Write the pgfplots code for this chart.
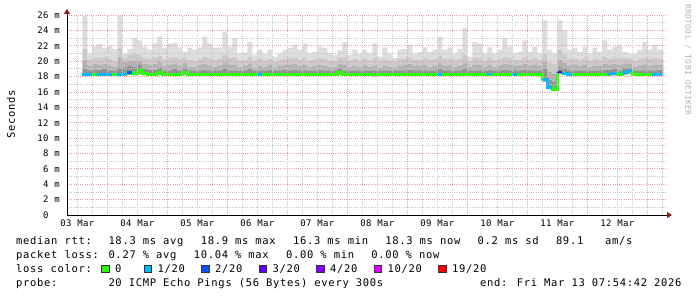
\documentclass[border=0pt]{standalone}
\usepackage{pgfplots}
\pgfplotsset{compat=1.18}
\usepackage{pgfplotstable}
\usepgfplotslibrary{fillbetween}
\usetikzlibrary{arrows.meta}
\usepackage{fontspec}
\newfontfamily\rrdmono{DejaVu Sans Mono}[LetterSpace=6.5]
\newfontfamily\rrdtickf{DejaVu Sans Mono}[LetterSpace=4]
\newcommand\legfont{\rrdmono\fontsize{10.5bp}{12bp}\selectfont\spaceskip=7bp\relax}
\newcommand\tickfont{\rrdtickf\fontsize{9bp}{10bp}\selectfont\spaceskip=5.8bp\relax}
\newcommand\wmfont{\rrdtickf\fontsize{8bp}{9bp}\selectfont\spaceskip=5.1bp\relax}

\definecolor{smoke1}{HTML}{DDDDDD}
\definecolor{smoke2}{HTML}{CACACA}
\definecolor{smoke3}{HTML}{B2B2B2}
\definecolor{smoke4}{HTML}{929292}
\definecolor{smoke5}{HTML}{A0A0A0}
\definecolor{gridred}{HTML}{E8A0A0}
\definecolor{gridgray}{HTML}{C8C8C8}
\definecolor{arrowred}{HTML}{8B1A1A}
\definecolor{loss0}{HTML}{26FF00}
\definecolor{loss1}{HTML}{00B8FF}
\definecolor{loss2}{HTML}{0059FF}
\definecolor{loss3}{HTML}{5E00FF}
\definecolor{loss4}{HTML}{7E00FF}
\definecolor{loss10}{HTML}{DD00FF}
\definecolor{loss19}{HTML}{FF0000}

\pgfplotstableread{
h max b2 b3 b4 med lo
14 25.9 21.6 20.2 19.0 18.25 18.05
16 21.0 20.2 19.4 18.8 18.3 18.1
18 22.0 20.5 19.6 18.9 18.3 18.1
20 22.2 20.4 19.5 18.9 18.3 18.1
22 21.7 20.6 19.7 19.0 18.3 18.1
24 22.0 20.3 19.4 18.8 18.3 18.1
26 21.6 20.1 19.3 18.8 18.3 18.1
28 25.9 21.8 20.4 19.2 18.3 18.1
30 21.0 20.5 19.9 19.3 18.35 18.1
32 21.6 20.8 20.0 19.4 18.5 18.2
34 23.0 20.9 20.0 19.3 18.4 18.15
36 22.7 20.8 20.1 19.5 18.8 18.3
38 21.9 20.4 19.6 19.0 18.4 18.15
40 21.5 20.3 19.5 18.9 18.3 18.1
42 22.3 20.5 19.6 18.9 18.3 18.1
44 23.2 20.7 19.9 19.2 18.6 18.2
46 21.7 20.2 19.4 18.8 18.3 18.1
48 22.2 20.4 19.5 18.8 18.3 18.1
50 22.4 20.6 19.7 19.0 18.3 18.1
52 21.8 20.3 19.4 18.8 18.3 18.1
54 21.2 20.5 19.8 19.2 18.6 18.2
56 21.7 20.2 19.3 18.8 18.3 18.1
58 21.5 20.1 19.3 18.7 18.3 18.1
60 21.8 20.3 19.5 18.8 18.3 18.1
62 23.2 20.6 19.6 18.9 18.3 18.1
64 22.3 20.4 19.4 18.8 18.3 18.1
66 21.7 20.2 19.3 18.7 18.3 18.1
68 21.8 20.3 19.4 18.8 18.3 18.1
70 23.8 20.8 19.8 19.0 18.3 18.1
72 21.9 20.4 19.5 18.8 18.3 18.1
74 23.0 20.5 19.5 18.8 18.3 18.1
76 21.0 20.1 19.3 18.7 18.3 18.1
78 21.1 20.2 19.4 18.8 18.3 18.1
80 22.5 20.6 19.7 19.0 18.3 18.1
82 20.8 20.0 19.2 18.7 18.3 18.1
84 21.5 20.3 19.4 18.8 18.3 18.1
86 20.9 20.1 19.3 18.7 18.3 18.1
88 21.5 20.3 19.5 18.9 18.3 18.1
90 20.6 19.9 19.2 18.7 18.3 18.1
92 21.0 20.2 19.4 18.8 18.3 18.1
94 21.4 20.3 19.5 18.9 18.3 18.1
96 21.7 20.4 19.5 18.8 18.3 18.1
98 22.1 20.5 19.6 18.9 18.3 18.1
100 21.5 20.2 19.4 18.8 18.3 18.1
102 22.3 20.4 19.5 18.8 18.3 18.1
104 21.0 20.1 19.3 18.7 18.3 18.1
106 21.2 20.2 19.4 18.8 18.3 18.1
108 21.9 20.4 19.5 18.9 18.3 18.1
110 21.7 20.3 19.4 18.8 18.3 18.1
112 21.0 20.1 19.3 18.7 18.3 18.1
114 20.8 20.0 19.3 18.8 18.3 18.1
116 21.4 20.5 19.7 19.1 18.6 18.2
118 22.5 20.5 19.5 18.8 18.3 18.1
120 20.8 20.1 19.3 18.7 18.3 18.1
122 21.5 20.3 19.4 18.8 18.3 18.1
124 21.0 20.1 19.3 18.7 18.3 18.1
126 21.5 20.3 19.5 18.8 18.3 18.1
128 21.0 20.1 19.3 18.7 18.3 18.1
130 22.3 20.4 19.4 18.7 18.2 18.0
132 20.6 20.0 19.2 18.7 18.3 18.1
134 21.8 20.3 19.4 18.8 18.3 18.1
136 21.0 20.1 19.3 18.7 18.3 18.1
138 20.4 19.9 19.2 18.7 18.3 18.1
140 21.5 20.3 19.4 18.8 18.3 18.1
142 21.6 20.3 19.5 18.8 18.3 18.1
144 22.1 20.5 19.6 18.9 18.3 18.1
146 21.0 20.2 19.4 18.8 18.3 18.1
148 21.2 20.2 19.4 18.8 18.3 18.1
150 21.8 20.4 19.5 18.8 18.3 18.1
152 21.2 20.2 19.3 18.7 18.3 18.1
154 21.5 20.3 19.4 18.8 18.3 18.1
156 23.2 20.7 19.8 19.0 18.3 18.1
158 21.5 20.3 19.4 18.8 18.3 18.1
160 21.8 20.3 19.5 18.8 18.3 18.1
162 21.0 20.1 19.3 18.7 18.3 18.1
164 21.6 20.3 19.4 18.8 18.3 18.1
166 24.3 20.8 19.8 19.0 18.3 18.1
168 20.6 20.0 19.3 18.7 18.3 18.1
170 22.5 20.5 19.5 18.8 18.3 18.1
172 22.3 20.4 19.5 18.8 18.3 18.1
174 21.0 20.1 19.3 18.7 18.3 18.1
176 21.8 20.4 19.5 18.9 18.35 18.1
178 21.0 20.1 19.3 18.7 18.3 18.1
180 21.5 20.3 19.4 18.8 18.3 18.1
182 23.0 20.6 19.6 18.9 18.3 18.1
184 21.9 20.4 19.5 18.8 18.3 18.1
186 21.0 20.2 19.4 18.8 18.3 18.1
188 21.2 20.2 19.4 18.8 18.3 18.1
190 22.7 20.6 19.6 18.9 18.3 18.1
192 21.2 20.2 19.4 18.8 18.3 18.1
194 21.9 20.4 19.5 18.8 18.3 18.1
196 21.0 20.2 19.4 18.8 18.3 18.1
198 25.3 21.0 19.9 19.0 17.6 17.3
200 21.5 19.8 18.6 17.6 16.6 16.4
202 21.0 19.6 18.4 17.3 16.3 16.1
204 25.3 21.5 20.2 19.3 18.6 18.3
206 24.0 20.8 19.8 19.0 18.4 18.2
208 21.5 20.3 19.4 18.8 18.3 18.1
210 21.7 20.3 19.5 18.8 18.3 18.1
212 21.2 20.2 19.4 18.8 18.3 18.1
214 21.9 20.4 19.5 18.8 18.3 18.1
216 21.0 20.1 19.3 18.7 18.3 18.1
218 21.7 20.3 19.4 18.8 18.3 18.1
220 21.2 20.2 19.4 18.8 18.3 18.1
222 22.7 20.6 19.6 18.9 18.3 18.1
224 21.5 20.3 19.5 18.9 18.35 18.1
226 21.9 20.5 19.6 19.0 18.4 18.15
228 22.1 20.4 19.5 18.8 18.3 18.1
230 21.2 20.4 19.7 19.1 18.5 18.2
232 21.0 20.3 19.7 19.2 18.7 18.3
234 21.0 20.1 19.3 18.7 18.3 18.1
236 21.5 20.3 19.4 18.8 18.3 18.1
238 22.5 20.5 19.5 18.8 18.3 18.1
240 21.5 20.3 19.4 18.8 18.3 18.1
242 22.1 20.4 19.5 18.8 18.3 18.1
244 21.5 20.3 19.5 18.9 18.35 18.1
246.4 21.5 20.3 19.5 18.9 18.35 18.1
}\smoke

\begin{document}
\begin{tikzpicture}
\begin{axis}[
  at={(67bp,82bp)}, anchor=south west,
  width=600bp, height=200bp, scale only axis,
  xmin=7.9, xmax=247.9, ymin=0, ymax=26,
  axis x line=bottom, axis y line=left,
  x axis line style={line width=0.8bp, shorten >=-5bp, -{Triangle[length=5bp,width=6bp,color=arrowred]}},
  y axis line style={line width=0.8bp, shorten >=-6bp, -{Triangle[length=5bp,width=6bp,color=arrowred]}},
  axis on top,
  xtick={24,48,...,240}, xticklabels={},
  extra x ticks={12,36,...,228},
  extra x tick labels={03 Mar,04 Mar,05 Mar,06 Mar,07 Mar,08 Mar,09 Mar,10 Mar,11 Mar,12 Mar},
  extra x tick style={grid=none},
  minor xtick={12,18,30,36,42,54,60,66,78,84,90,102,108,114,126,132,138,150,156,162,174,180,186,198,204,210,222,228,234,246},
  ytick={0,2,...,26},
  yticklabels={0\hphantom{mm},2 m,4 m,6 m,8 m,10 m,12 m,14 m,16 m,18 m,20 m,22 m,24 m,26 m},
  minor ytick={1,3,...,25},
  grid=both,
  major grid style={draw=gridred, line width=0.8bp, dash pattern=on 1bp off 1.2bp},
  minor grid style={draw=gridgray, line width=0.8bp, dash pattern=on 1bp off 1.2bp},
  major tick length=0pt, minor tick length=0pt,
  xticklabel style={font=\tickfont, anchor=north, inner sep=0pt, yshift=-5bp},
  yticklabel style={font=\tickfont, anchor=east, inner sep=0pt, xshift=-7bp},
]
\addplot[const plot, draw=none, name path=pmax, forget plot] table[x=h,y=max]{\smoke};
\addplot[const plot, draw=none, name path=pb2, forget plot] table[x=h,y=b2]{\smoke};
\addplot[const plot, draw=none, name path=pb3, forget plot] table[x=h,y=b3]{\smoke};
\addplot[const plot, draw=none, name path=pb4, forget plot] table[x=h,y=b4]{\smoke};
\addplot[const plot, draw=none, name path=pmed, forget plot] table[x=h,y=med]{\smoke};
\addplot[const plot, draw=none, name path=plo, forget plot] table[x=h,y=lo]{\smoke};
\addplot[smoke1, forget plot] fill between[of=pmax and pb2];
\addplot[smoke2, forget plot] fill between[of=pb2 and pb3];
\addplot[smoke3, forget plot] fill between[of=pb3 and pb4];
\addplot[smoke4, forget plot] fill between[of=pb4 and pmed];
\addplot[smoke5, forget plot] fill between[of=pmed and plo];
% median rtt, coloured by loss
\addplot[const plot, draw=loss0, line width=2.6bp] table[x=h,y=med]{\smoke};
\addplot[const plot, draw=loss1, line width=2.6bp] coordinates {(14,18.25) (16,18.3) (18,18.3)};
\addplot[const plot, draw=loss1, line width=2.6bp] coordinates {(20,18.3) (26,18.3)};
\addplot[const plot, draw=loss1, line width=2.6bp] coordinates {(28,18.3) (30,18.35) (32,18.35)};
\addplot[const plot, draw=loss2, line width=2.6bp] coordinates {(32,18.5) (34,18.5)};
\addplot[const plot, draw=loss1, line width=2.6bp] coordinates {(84,18.3) (86,18.3)};
\addplot[const plot, draw=loss1, line width=2.6bp] coordinates {(156,18.3) (158,18.3)};
\addplot[const plot, draw=loss1, line width=2.6bp] coordinates {(176,18.35) (178,18.35)};
\addplot[const plot, draw=loss1, line width=2.6bp] coordinates {(186,18.3) (188,18.3)};
\addplot[const plot, draw=loss1, line width=2.6bp] coordinates {(198,17.6) (200,16.6) (202,16.6)};
\addplot[const plot, draw=loss3, line width=2.6bp] coordinates {(204,18.6) (206,18.6)};
\addplot[const plot, draw=loss1, line width=2.6bp] coordinates {(206,18.4) (208,18.3) (210,18.3)};
\addplot[const plot, draw=loss1, line width=2.6bp] coordinates {(224,18.35) (226,18.4) (228,18.4)};
\addplot[const plot, draw=loss1, line width=2.6bp] coordinates {(230,18.5) (232,18.7) (234,18.7)};
\addplot[const plot, draw=loss1, line width=2.6bp] coordinates {(242,18.3) (244,18.35) (246.4,18.35)};
\end{axis}
% y label and watermark
\node[rotate=90, inner sep=0pt] at (11bp,183bp) {\legfont Seconds};
\node[rotate=-90, inner sep=0pt, text=black!30] at (688bp,237bp) {\wmfont RRDTOOL / TOBI OETIKER};
% legend
\begin{scope}[every node/.style={anchor=base west, inner sep=0pt, font=\legfont}]
\node at (16bp,52.5bp) {median rtt:};
\node at (108.3bp,52.5bp) {18.3 ms avg};
\node at (200.6bp,52.5bp) {18.9 ms max};
\node at (292.9bp,52.5bp) {16.3 ms min};
\node at (385.2bp,52.5bp) {18.3 ms now};
\node at (477.5bp,52.5bp) {0.2 ms sd};
\node at (555.8bp,52.5bp) {89.1};
\node at (604.8bp,52.5bp) {am/s};
\node at (16bp,38.5bp) {packet loss:};
\node at (108.3bp,38.5bp) {0.27 \% avg};
\node at (193.6bp,38.5bp) {10.04 \% max};
\node at (285.9bp,38.5bp) {0.00 \% min};
\node at (371.2bp,38.5bp) {0.00 \% now};
\node at (16bp,24.5bp) {loss color:};
\node at (115bp,24.5bp) {0};
\node at (157.5bp,24.5bp) {1/20};
\node at (215bp,24.5bp) {2/20};
\node at (272.5bp,24.5bp) {3/20};
\node at (330bp,24.5bp) {4/20};
\node at (387.5bp,24.5bp) {10/20};
\node at (452bp,24.5bp) {19/20};
\node at (16bp,10.5bp) {probe:};
\node at (108.3bp,10.5bp) {20 ICMP Echo Pings (56 Bytes) every 300s};
\node at (480bp,10.5bp) {end: Fri Mar 13 07:54:42 2026};
\end{scope}
\begin{scope}[line width=0.6bp, draw=black!80]
\filldraw[fill=loss0] (101.5bp,24.5bp) rectangle ++(7.5bp,7.5bp);
\filldraw[fill=loss1] (144bp,24.5bp) rectangle ++(7.5bp,7.5bp);
\filldraw[fill=loss2] (201.5bp,24.5bp) rectangle ++(7.5bp,7.5bp);
\filldraw[fill=loss3] (259bp,24.5bp) rectangle ++(7.5bp,7.5bp);
\filldraw[fill=loss4] (316.5bp,24.5bp) rectangle ++(7.5bp,7.5bp);
\filldraw[fill=loss10] (374bp,24.5bp) rectangle ++(7.5bp,7.5bp);
\filldraw[fill=loss19] (438.5bp,24.5bp) rectangle ++(7.5bp,7.5bp);
\end{scope}
\pgfresetboundingbox
\path[use as bounding box] (0,0) rectangle (697bp,297bp);
\end{tikzpicture}
\end{document}
